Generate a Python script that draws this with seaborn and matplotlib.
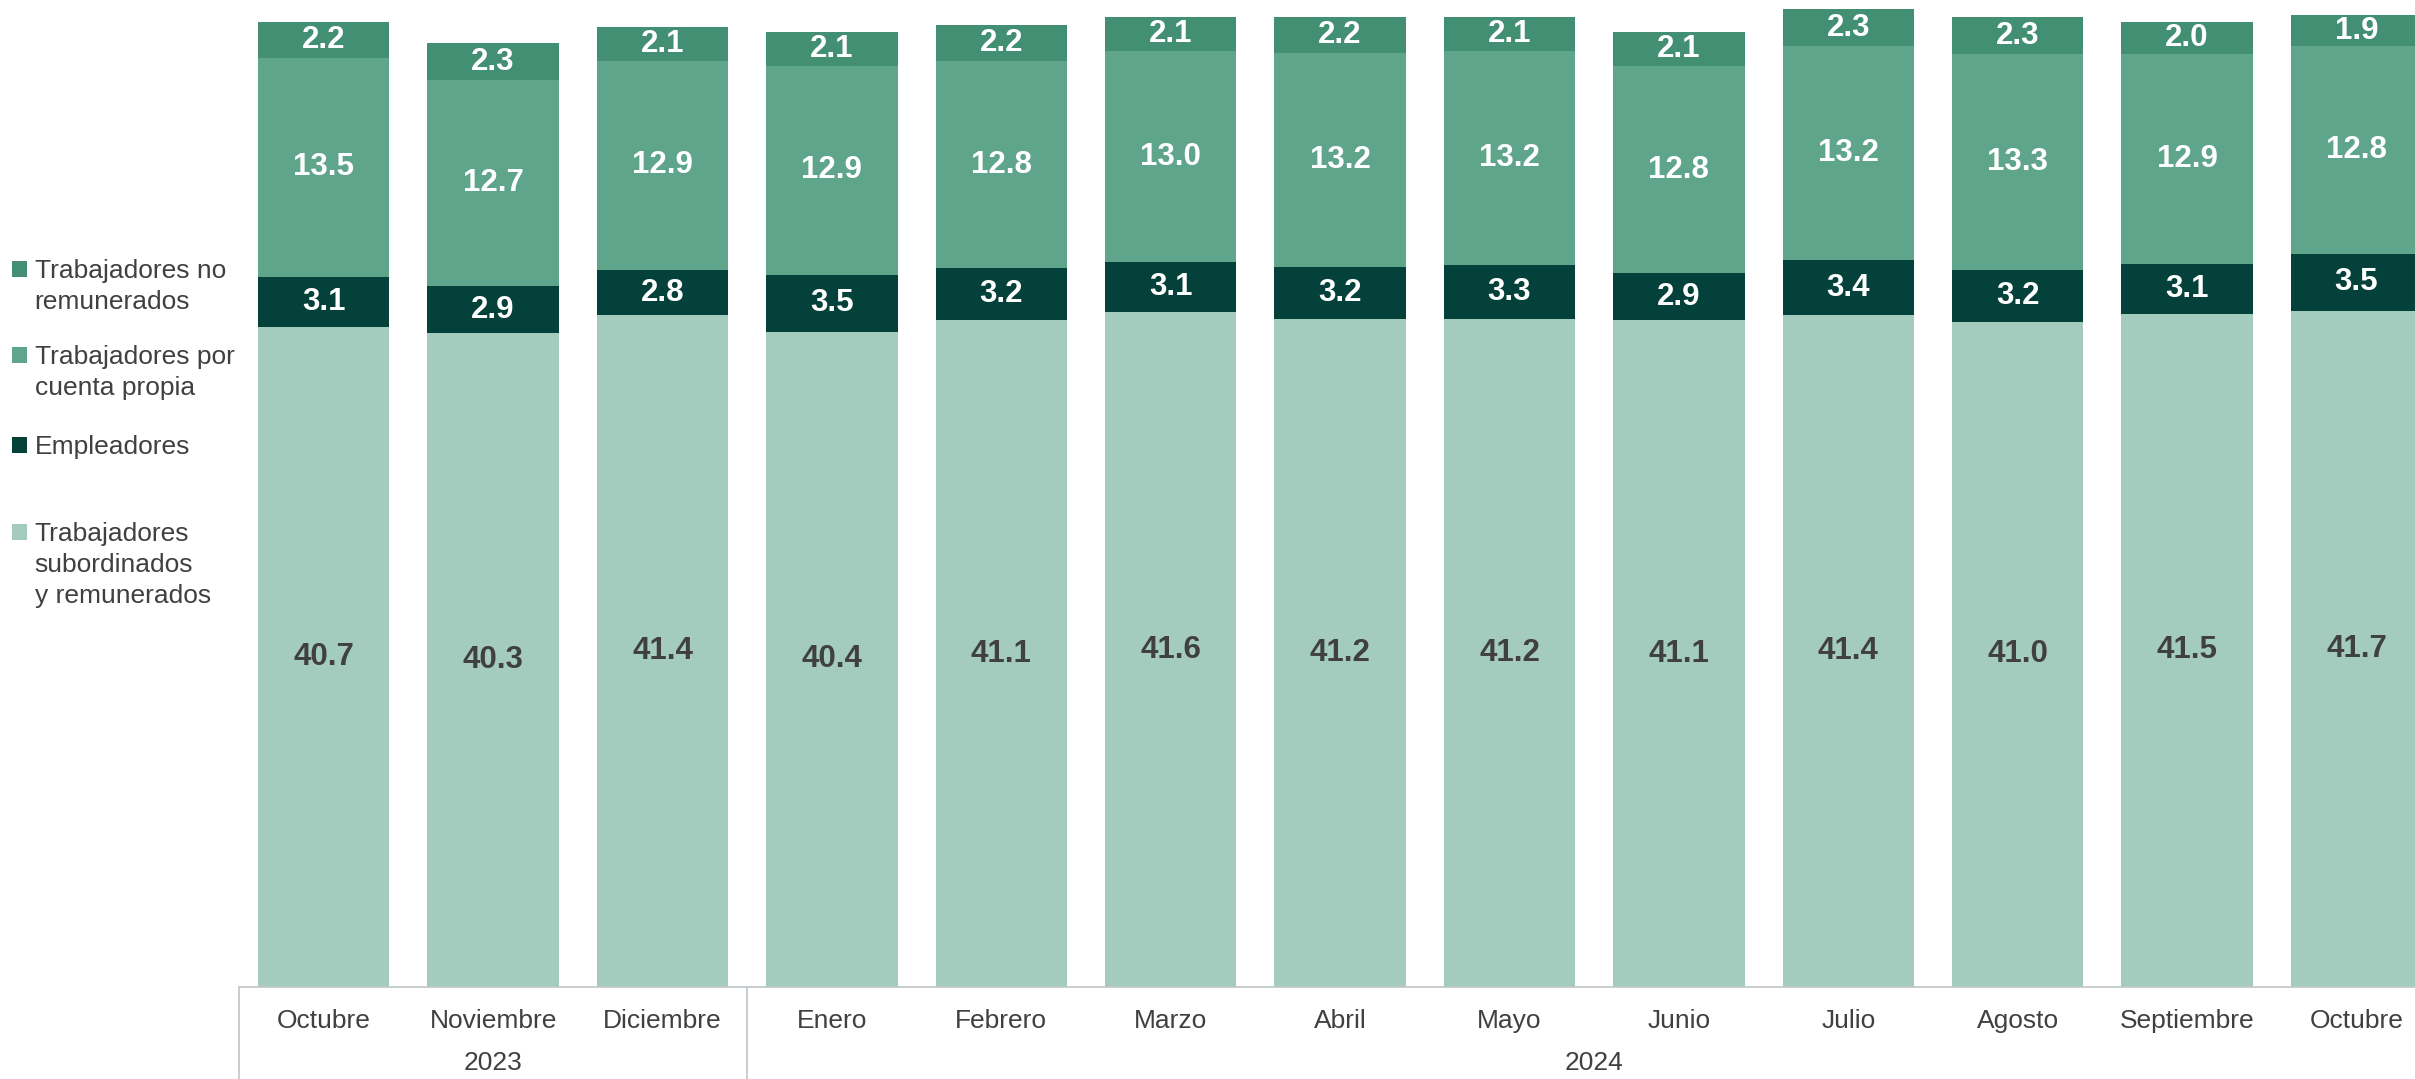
import numpy as np
import pandas as pd
import matplotlib
matplotlib.use("Agg")
import matplotlib.pyplot as plt
import matplotlib.transforms as mtransforms
from matplotlib.patches import Patch
import seaborn as sns

# data
months = ["Octubre", "Noviembre", "Diciembre", "Enero", "Febrero", "Marzo", "Abril",
          "Mayo", "Junio", "Julio", "Agosto", "Septiembre", "Octubre"]
years = ["2023", "2024"]
year_groups = [(0, 2), (3, 12)]

subordinados = [40.7, 40.3, 41.4, 40.4, 41.1, 41.6, 41.2, 41.2, 41.1, 41.4, 41.0, 41.5, 41.7]
empleadores = [3.1, 2.9, 2.8, 3.5, 3.2, 3.1, 3.2, 3.3, 2.9, 3.4, 3.2, 3.1, 3.5]
cuenta_propia = [13.5, 12.7, 12.9, 12.9, 12.8, 13.0, 13.2, 13.2, 12.8, 13.2, 13.3, 12.9, 12.8]
no_remunerados = [2.2, 2.3, 2.1, 2.1, 2.2, 2.1, 2.2, 2.1, 2.1, 2.3, 2.3, 2.0, 1.9]

series_names = ["Trabajadores\nsubordinados\ny remunerados", "Empleadores",
                "Trabajadores por\ncuenta propia", "Trabajadores no\nremunerados"]
series_values = [subordinados, empleadores, cuenta_propia, no_remunerados]
series_colors = ["#A4CCBE", "#03413A", "#5FA58C", "#428F74"]
label_colors = ["#404040", "white", "white", "white"]

sns.set_theme(style="white")
plt.rcParams["font.family"] = ["Liberation Sans", "DejaVu Sans"]

W, H = 2415, 1079
fig = plt.figure(figsize=(W / 100, H / 100), dpi=100)

# axes geometry (pixels of the reference)
left_px, bottom_px, cat_px = 239, 987, 169.4
ax = fig.add_axes([left_px / W, 1 - bottom_px / H, (W - left_px) / W, bottom_px / H])

x = np.arange(len(months))
bottoms = np.zeros(len(months))
for name, vals, col, tcol in zip(series_names, series_values, series_colors, label_colors):
    df = pd.DataFrame({"x": x, "v": vals})
    sns.barplot(data=df, x="x", y="v", color=col, saturation=1, width=0.775,
                bottom=bottoms, ax=ax, edgecolor="none", linewidth=0, errorbar=None)
    for xi, v, b in zip(x, vals, bottoms):
        ax.text(xi, b + v / 2, f"{v:.1f}", ha="center", va="center",
                color=tcol, fontsize=22.5, fontweight="bold")
    bottoms = bottoms + np.array(vals)

n_vis = (W - left_px) / cat_px
ax.set_xlim(-0.5, -0.5 + n_vis)
ax.set_ylim(0, bottom_px / 16.22)
ax.set_xlabel("")
ax.set_ylabel("")
ax.set_yticks([])
ax.set_xticks(x)
ax.set_xticklabels(months, fontsize=19, color="#404040")
ax.tick_params(axis="x", length=0, pad=16)
for s in ["top", "right", "left"]:
    ax.spines[s].set_visible(False)
ax.spines["bottom"].set_color("#BFC5C9")
ax.spines["bottom"].set_linewidth(1.2)

# year separators and labels under the axis
trans = mtransforms.blended_transform_factory(ax.transData, ax.transAxes)
drop = (H - bottom_px) / bottom_px
for sep in [-0.5, 2.5]:
    ax.plot([sep, sep], [0, -drop], transform=trans, color="#BFC5C9", lw=1.2, clip_on=False)
for yr, (a, b) in zip(years, year_groups):
    ax.text((a + b) / 2, -(1063 - bottom_px) / bottom_px, yr, transform=trans,
            ha="center", va="center", fontsize=19, color="#404040")

# legend: one block per series, marker beside the first line only
legend_order = [3, 2, 1, 0]
legend_tops = [259, 345, 435, 522]
line_step = 31
legends = []
for idx, top in zip(legend_order, legend_tops):
    lines = series_names[idx].split("\n")
    leg = fig.legend(handles=[Patch(facecolor=series_colors[idx], edgecolor="none")],
                     labels=[lines[0]], loc="upper left",
                     bbox_to_anchor=(0.005, 1 - top / H), frameon=False, fontsize=19,
                     handlelength=0.55, handleheight=0.55, handletextpad=0.3,
                     borderpad=0, borderaxespad=0, labelcolor="#404040")
    legends.append((leg, lines[1:]))

fig.canvas.draw()
renderer = fig.canvas.get_renderer()
for leg, rest in legends:
    t = leg.get_texts()[0]
    bb = t.get_window_extent(renderer)
    x0 = bb.x0 / W
    yb = t.get_position()
    for k, line in enumerate(rest, start=1):
        fig.text(x0, (bb.y0 + bb.y1) / 2 / H - k * line_step / H, line,
                 ha="left", va="center", fontsize=19, color="#404040")

fig.savefig("out.png", dpi=100)
